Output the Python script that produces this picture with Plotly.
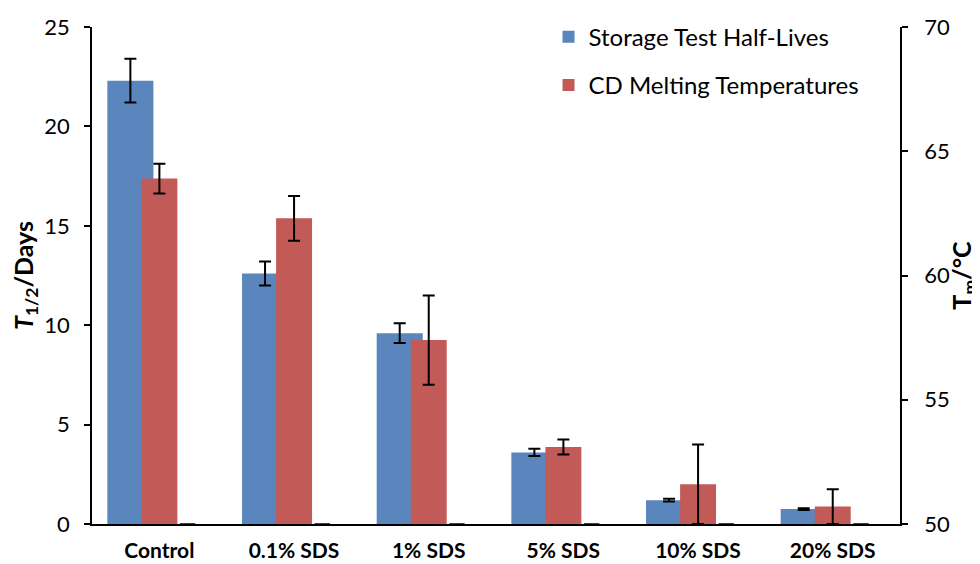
import numpy as np
import plotly.graph_objects as go

categories = ["Control", "0.1% SDS", "1% SDS", "5% SDS", "10% SDS", "20% SDS"]
half_lives = [22.3, 12.6, 9.6, 3.6, 1.2, 0.75]
half_lives_err = [1.1, 0.6, 0.5, 0.18, 0.07, 0.04]
melting_temps = [63.9, 62.3, 57.4, 53.1, 51.6, 50.7]
melting_err = [0.6, 0.9, 1.8, 0.3, 1.6, 0.7]
dummy_series = [0, 0, 0, 0, 0, 0]

TEMP_BASE = 50
x = np.arange(len(categories))
FONT = "Lato"

fig = go.Figure()
fig.add_trace(go.Bar(
    x=x, y=half_lives, name="Storage Test Half-Lives",
    width=0.342, offset=-0.386,
    marker=dict(color="#5a86bd", line=dict(width=0)),
    error_y=dict(type="data", array=half_lives_err, color="black", thickness=2, width=6),
    legendgroup="a", yaxis="y",
))
fig.add_trace(go.Bar(
    x=x, y=[v - TEMP_BASE for v in melting_temps], base=TEMP_BASE,
    name="CD Melting Temperatures",
    width=0.267, offset=-0.133,
    marker=dict(color="#c25b58", line=dict(width=0)),
    error_y=dict(type="data", array=melting_err, color="black", thickness=2, width=6),
    legendgroup="b", yaxis="y2",
))
fig.add_trace(go.Scatter(
    x=x + 0.21, y=[TEMP_BASE + v for v in dummy_series], mode="markers",
    marker=dict(symbol="line-ew", size=11, line=dict(width=2, color="#404040")),
    showlegend=False, yaxis="y2", hoverinfo="skip", cliponaxis=False,
))

fig.update_layout(
    width=972, height=556,
    margin=dict(l=84, r=80, t=19, b=40, autoexpand=False),
    paper_bgcolor="white", plot_bgcolor="white",
    barmode="overlay",
    font=dict(family=FONT, size=22, color="black"),
    showlegend=True,
    legend=dict(
        x=0.565, y=1.025, xanchor="left", yanchor="top",
        font=dict(family=FONT, size=24, color="black"),
        tracegroupgap=14, traceorder="grouped",
        bgcolor="rgba(0,0,0,0)",
    ),
    xaxis=dict(
        range=[-0.5, 5.5], tickvals=list(x), ticktext=[f"<b>{c}</b>" for c in categories],
        showline=True, linecolor="black", linewidth=1.5, ticks="",
        tickfont=dict(family=FONT, size=21, color="black"),
        showgrid=False, zeroline=False, automargin=False, ticklabelstandoff=7,
    ),
    yaxis=dict(
        range=[0, 25], dtick=5, showline=True, linecolor="black", linewidth=1.5,
        ticks="outside", ticklen=6, tickwidth=1.5, tickcolor="black",
        showgrid=False, zeroline=False, automargin=False, ticklabelstandoff=10,
        tickfont=dict(family=FONT, size=22, color="black"),
        title=dict(text="<b><i>T</i><sub>1/2</sub>/Days</b>", font=dict(family=FONT, size=25), standoff=18),
    ),
    yaxis2=dict(
        range=[50, 70], dtick=5, overlaying="y", side="right",
        showline=True, linecolor="black", linewidth=1.5,
        ticks="outside", ticklen=6, tickwidth=1.5, tickcolor="black",
        showgrid=False, zeroline=False, automargin=False, ticklabelstandoff=12,
        tickfont=dict(family=FONT, size=22, color="black"),
        title=dict(text="<b>T<sub>m</sub>/°C</b>", font=dict(family=FONT, size=25), standoff=6),
    ),
)

fig.write_html("out.html")
